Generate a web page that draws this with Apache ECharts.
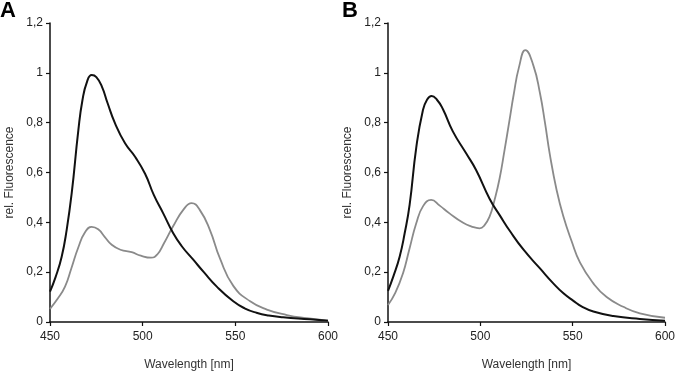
<!DOCTYPE html>
<html>
<head>
<meta charset="utf-8">
<script src="https://cdn.jsdelivr.net/npm/echarts@6/dist/echarts.min.js"></script>
<style>html,body{margin:0;padding:0;background:#fff;}#c{width:680px;height:377px;}</style>
</head>
<body>
<div id="c"></div>
<script>
// Panel A, black curve
const aBlackX = [450, 453, 456.3, 459, 461.7, 465.3, 467.5, 470, 472.5, 475, 478, 481, 485.1, 490.5, 495.9, 501.3, 506, 511.1, 516.5, 521, 527.3, 533, 540, 548.9, 555, 561.4, 568, 575.8, 590.3, 600];
const aBlackY = [0.122, 0.18, 0.262, 0.37, 0.516, 0.77, 0.89, 0.965, 0.991, 0.983, 0.945, 0.88, 0.797, 0.717, 0.663, 0.595, 0.51, 0.436, 0.356, 0.305, 0.25, 0.2, 0.142, 0.083, 0.055, 0.037, 0.026, 0.019, 0.011, 0.005];
// Panel A, gray curve
const aGrayX = [450, 454, 458.1, 461.5, 465.3, 468.9, 472.5, 476, 479.5, 483.3, 488, 494.1, 499, 504.5, 508, 511.5, 516.5, 521.9, 526.4, 530.8, 536.3, 541.7, 548.9, 558, 567, 577.8, 588.6, 600];
const aGrayY = [0.053, 0.092, 0.142, 0.215, 0.3, 0.36, 0.382, 0.372, 0.342, 0.31, 0.29, 0.28, 0.266, 0.258, 0.272, 0.316, 0.385, 0.45, 0.477, 0.45, 0.369, 0.255, 0.145, 0.083, 0.05, 0.028, 0.015, 0.005];
// Panel B, black curve
const bBlackX = [450, 453, 456.3, 459, 461.7, 465.3, 468.9, 471.2, 473.6, 476.5, 479.7, 485.1, 492.3, 497.7, 505, 510.8, 516.2, 523.4, 532.3, 539.5, 545, 550.4, 555, 561.2, 572, 586.4, 600];
const bBlackY = [0.125, 0.185, 0.262, 0.355, 0.47, 0.7, 0.85, 0.893, 0.907, 0.892, 0.855, 0.765, 0.677, 0.61, 0.495, 0.425, 0.363, 0.29, 0.215, 0.155, 0.115, 0.085, 0.062, 0.042, 0.024, 0.012, 0.005];
// Panel B, gray curve
const bGrayX = [450, 454, 458.1, 461.5, 465.3, 469, 473.4, 478, 483.3, 490.7, 495, 499.6, 502, 505, 507.7, 510.4, 513, 515.8, 518, 521, 524.4, 528.7, 532.3, 535, 537.7, 541.3, 544.9, 549.4, 554, 561.2, 568.4, 577.4, 586.4, 600];
const bGrayY = [0.068, 0.118, 0.195, 0.29, 0.396, 0.465, 0.49, 0.467, 0.436, 0.398, 0.384, 0.376, 0.386, 0.423, 0.49, 0.575, 0.685, 0.81, 0.91, 1.025, 1.091, 1.03, 0.918, 0.8, 0.67, 0.53, 0.425, 0.325, 0.238, 0.155, 0.10, 0.061, 0.035, 0.017];

const xTicks = [450, 500, 550, 600];
const yTicks = [0, 0.2, 0.4, 0.6, 0.8, 1, 1.2];
const panelLabels = ['A', 'B'];
const xName = 'Wavelength [nm]';
const yName = 'rel. Fluorescence';

const zip = (xs, ys) => xs.map((x, i) => [x, ys[i]]);
const font = 'Liberation Sans, Arial, sans-serif';

function xAxis(gi) {
  return {
    type: 'value', gridIndex: gi, min: xTicks[0], max: xTicks[xTicks.length - 1], interval: 50,
    name: xName, nameLocation: 'middle', nameGap: 37,
    nameTextStyle: { color: '#333', fontSize: 12, fontFamily: font },
    axisLine: { lineStyle: { color: '#111', width: 1.5 } },
    axisTick: { show: true, length: 4, inside: false, lineStyle: { color: '#111', width: 1.2 } },
    axisLabel: { color: '#222', fontSize: 12, fontFamily: font, margin: 9 },
    splitLine: { show: false }
  };
}
function yAxis(gi) {
  return {
    type: 'value', gridIndex: gi, min: yTicks[0], max: yTicks[yTicks.length - 1], interval: 0.2,
    name: yName, nameLocation: 'middle', nameGap: 34, nameRotate: 90,
    nameTextStyle: { color: '#333', fontSize: 12, fontFamily: font },
    axisLine: { show: true, lineStyle: { color: '#111', width: 1.5 } },
    axisTick: { show: true, length: 4, lineStyle: { color: '#111', width: 1.2 } },
    axisLabel: { color: '#222', fontSize: 12, fontFamily: font, margin: 7,
      formatter: v => String(Math.round(v * 10) / 10).replace('.', ',') },
    splitLine: { show: false }
  };
}
function line(xs, ys, gi, color, w) {
  return {
    type: 'line', xAxisIndex: gi, yAxisIndex: gi, data: zip(xs, ys),
    smooth: 0.5, showSymbol: false, silent: true,
    lineStyle: { color: color, width: w }
  };
}

const chart = echarts.init(document.getElementById('c'), null, { renderer: 'canvas' });
chart.setOption({
  animation: false,
  backgroundColor: '#fff',
  grid: [
    { left: 50, right: 352, top: 23, bottom: 55 },
    { left: 388, right: 15, top: 23, bottom: 55 }
  ],
  xAxis: [xAxis(0), xAxis(1)],
  yAxis: [yAxis(0), yAxis(1)],
  graphic: [
    { type: 'text', left: 0, top: 0, style: { text: panelLabels[0], font: 'bold 22px ' + font, fill: '#000' } },
    { type: 'text', left: 342, top: 0, style: { text: panelLabels[1], font: 'bold 22px ' + font, fill: '#000' } }
  ],
  series: [
    line(aGrayX, aGrayY, 0, '#8a8a8a', 1.8),
    line(aBlackX, aBlackY, 0, '#111', 2),
    line(bGrayX, bGrayY, 1, '#8a8a8a', 1.8),
    line(bBlackX, bBlackY, 1, '#111', 2)
  ]
});
</script>
</body>
</html>
